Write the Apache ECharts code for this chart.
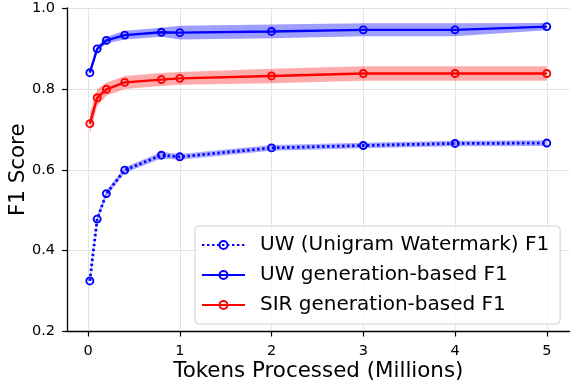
<!DOCTYPE html>
<html>
<head>
<meta charset="utf-8">
<script src="https://cdn.jsdelivr.net/npm/echarts@6/dist/echarts.min.js"></script>
<style>
html,body{margin:0;padding:0;background:#fff;}
#chart{width:572px;height:386px;}
</style>
</head>
<body>
<div id="chart"></div>
<script>
// Data
var tokens = [0.02, 0.1, 0.2, 0.4, 0.8, 1.0, 2, 3, 4, 5];
var xTicks = [0, 1, 2, 3, 4, 5];

var uwF1   = [0.325, 0.478, 0.541, 0.599, 0.636, 0.632, 0.654, 0.660, 0.665, 0.666];
var uwF1Lo = [0.318, 0.470, 0.534, 0.592, 0.628, 0.625, 0.647, 0.653, 0.658, 0.659];
var uwF1Hi = [0.332, 0.486, 0.548, 0.606, 0.644, 0.639, 0.661, 0.667, 0.672, 0.673];

var uwGen   = [0.840, 0.899, 0.920, 0.933, 0.940, 0.939, 0.942, 0.946, 0.946, 0.954];
var uwGenLo = [0.834, 0.893, 0.912, 0.922, 0.929, 0.922, 0.925, 0.930, 0.930, 0.945];
var uwGenHi = [0.846, 0.905, 0.928, 0.944, 0.951, 0.956, 0.959, 0.962, 0.962, 0.963];

var sirGen   = [0.714, 0.778, 0.799, 0.816, 0.823, 0.826, 0.832, 0.838, 0.838, 0.838];
var sirGenLo = [0.688, 0.757, 0.783, 0.800, 0.807, 0.810, 0.814, 0.820, 0.820, 0.820];
var sirGenHi = [0.740, 0.799, 0.815, 0.832, 0.839, 0.842, 0.850, 0.856, 0.856, 0.856];

var names = ['UW (Unigram Watermark) F1', 'UW generation-based F1', 'SIR generation-based F1'];

function pairs(xs, ys) { return xs.map(function (x, i) { return [x, ys[i]]; }); }

// Shaded band drawn as one polygon through the axis scales (api.coord)
function band(lo, hi, color) {
  var rows = tokens.map(function (x, i) { return [x, lo[i], hi[i]]; });
  return {
    type: 'custom', silent: true, z: 1, animation: false,
    data: rows,
    encode: { x: 0, y: [1, 2] },
    renderItem: function (params, api) {
      if (params.dataIndex !== 0) return null;
      var top = rows.map(function (r) { return api.coord([r[0], r[2]]); });
      var bot = rows.map(function (r) { return api.coord([r[0], r[1]]); }).reverse();
      return {
        type: 'polygon',
        shape: { points: top.concat(bot) },
        style: { fill: color, stroke: null }
      };
    }
  };
}

function mainLine(name, ys, color, dotted) {
  return {
    type: 'line', name: name, data: pairs(tokens, ys), z: 5, animation: false,
    symbol: 'circle', symbolSize: 7,
    itemStyle: { color: 'rgba(255,255,255,0)', borderColor: color, borderWidth: 1.9 },
    lineStyle: { color: color, width: dotted ? 2.8 : 2.4, type: dotted ? [2.4, 2.6] : 'solid', cap: 'butt' }
  };
}

var font = 'DejaVu Sans';
var chart = echarts.init(document.getElementById('chart'), null, { renderer: 'canvas' });
chart.setOption({
  backgroundColor: '#fff',
  textStyle: { fontFamily: font },
  grid: { left: 67, right: 2.4, top: 8, bottom: 54.5, containLabel: false, outerBoundsMode: 'none' },
  xAxis: {
    type: 'value', min: -0.229, max: 5.249,
    name: 'Tokens Processed (Millions)', nameLocation: 'middle', nameGap: 29, nameMoveOverlap: false,
    nameTextStyle: { fontSize: 21.4, color: '#000', fontFamily: font },
    axisLine: { show: true, onZero: false, lineStyle: { color: '#000', width: 1.3 } },
    axisTick: { show: true, length: 5, customValues: xTicks, lineStyle: { color: '#000', width: 1.2 } },
    axisLabel: { customValues: xTicks, fontSize: 14.5, color: '#000', margin: 12, fontFamily: font },
    splitLine: { show: true, lineStyle: { color: '#e3e3e3', width: 1 } }
  },
  yAxis: {
    type: 'value', min: 0.2, max: 1.0, interval: 0.2,
    name: 'F1 Score', nameLocation: 'middle', nameGap: 38, nameMoveOverlap: false,
    nameTextStyle: { fontSize: 21.4, color: '#000', fontFamily: font },
    axisLine: { show: true, onZero: false, lineStyle: { color: '#000', width: 1.3 } },
    axisTick: { show: true, length: 5, lineStyle: { color: '#000', width: 1.2 } },
    axisLabel: { fontSize: 14.5, color: '#000', margin: 12, fontFamily: font,
      formatter: function (v) { return v.toFixed(1); } },
    splitLine: { show: true, lineStyle: { color: '#e3e3e3', width: 1 } }
  },
  legend: {
    data: names, orient: 'vertical', left: 195, top: 226,
    itemWidth: 43, itemHeight: 10, itemGap: 10,
    padding: [9, 11, 9, 6],
    backgroundColor: 'rgba(255,255,255,0.8)', borderColor: '#d0d0d0', borderWidth: 1, borderRadius: 4,
    textStyle: { fontSize: 20, color: '#000', fontFamily: font, padding: [0, 0, 0, 10] }
  },
  series: [
    band(uwF1Lo, uwF1Hi, 'rgba(0,0,255,0.33)'),
    band(uwGenLo, uwGenHi, 'rgba(0,0,255,0.38)'),
    band(sirGenLo, sirGenHi, 'rgba(255,0,0,0.33)'),
    mainLine(names[0], uwF1, '#0000ff', true),
    mainLine(names[1], uwGen, '#0000ff', false),
    mainLine(names[2], sirGen, '#ff0000', false)
  ]
});
</script>
</body>
</html>
